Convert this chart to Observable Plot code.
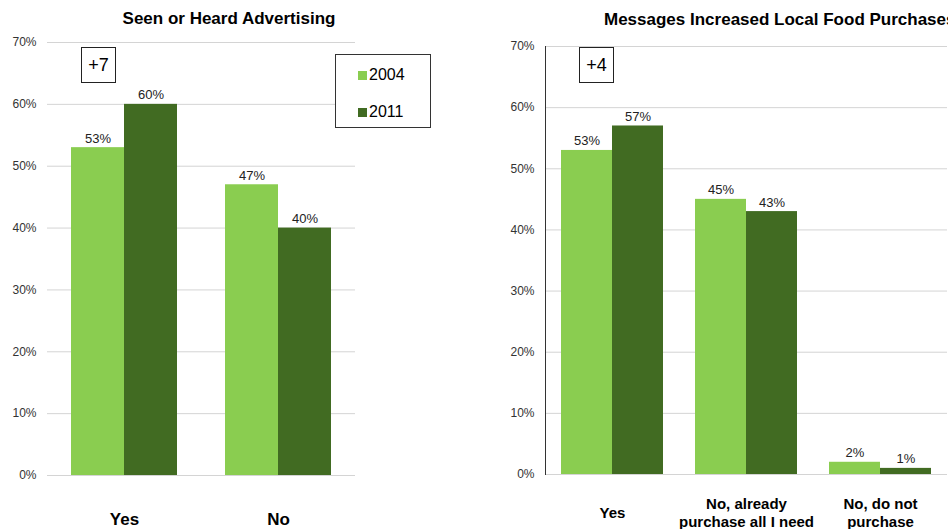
<!DOCTYPE html>
<html>
<head>
<meta charset="utf-8">
<script src="https://cdn.jsdelivr.net/npm/d3@7"></script>
<script src="https://cdn.jsdelivr.net/npm/@observablehq/plot@0.6"></script>
<style>
  html, body { margin: 0; padding: 0; background: #fff; }
  #wrap { position: relative; width: 948px; height: 529px; overflow: hidden; background: #fff;
          font-family: "Liberation Sans", Arial, sans-serif; color: #000; }
  .title { position: absolute; font-weight: bold; font-size: 17px; line-height: 17px; white-space: nowrap; }
  .diff { position: absolute; box-sizing: border-box; border: 1px solid #222; font-size: 18px;
          display: flex; align-items: center; justify-content: center; background: #fff; }
  .legend { position: absolute; box-sizing: border-box; border: 1px solid #333; background: #fff; }
  .legend .item { position: absolute; left: 22px; font-size: 16px; line-height: 16px; display: flex; align-items: center; }
  .legend .sw { width: 9px; height: 9px; margin-right: 2px; display: inline-block; }
  .plot { position: absolute; top: 0; }
</style>
</head>
<body>
<div id="wrap"></div>
<script>
// ---- data ----
const years = ["2004", "2011"];
const adTitle = "Seen or Heard Advertising";
const adCategories = ["Yes", "No"];
const ad2004 = [53, 47];
const ad2011 = [60, 40];

const msgTitle = "Messages Increased Local Food Purchases";
const msgCategories = ["Yes", "No, already\npurchase all I need", "No, do not\npurchase"];
const msg2004 = [53, 45, 2];
const msg2011 = [57, 43, 1];

const yTicks = [0, 10, 20, 30, 40, 50, 60, 70];

// ---- styles ----
const colors = ["#8ACD50", "#416B22"];
const font = "'Liberation Sans', Arial, sans-serif";

function rows(cats, a, b) {
  const out = [];
  cats.forEach((c, i) => {
    out.push({category: c, year: years[0], value: a[i]});
    out.push({category: c, year: years[1], value: b[i]});
  });
  return out;
}

const adRows = rows(adCategories, ad2004, ad2011);
const msgRows = rows(msgCategories, msg2004, msg2011);

function panel(data, cats, opts) {
  const marks = [
    Plot.gridY(yTicks, {stroke: "#d4d4d4", strokeOpacity: 1}),
    Plot.axisY(yTicks, {tickSize: 0, tickPadding: 11, fontSize: 12, tickFormat: d => d + "%", label: null, color: "#333"}),
    Plot.barY(data, {fx: "category", x: "year", y: "value", fill: "year"}),
    Plot.text(data, {fx: "category", x: "year", y: "value", text: d => d.value + "%", dy: -5,
                     lineAnchor: "bottom", fontSize: 13, fill: "#222"}),
    Plot.axisFx({anchor: "bottom", tickSize: 0, tickPadding: opts.labelPad, fontSize: opts.labelSize,
                 fontWeight: "bold", label: null, lineAnchor: "middle", lineHeight: 1.2, color: "#000"})
  ];
  if (opts.axisLine) marks.push(Plot.frame({anchor: "left", stroke: "#333", facet: "super"}));
  return Plot.plot({
    width: opts.width, height: 529,
    marginLeft: opts.ml, marginRight: opts.mr, marginTop: opts.mt, marginBottom: opts.mb,
    style: {fontFamily: font, background: "transparent", overflow: "visible"},
    fx: {domain: cats, padding: 0},
    x: {domain: years, paddingInner: 0, paddingOuter: opts.po, axis: null},
    y: {domain: [0, 70]},
    color: {domain: years, range: colors},
    marks
  });
}

const wrap = document.getElementById("wrap");

const left = panel(adRows, adCategories, {width: 474, ml: 46, mr: 119, mt: 42, mb: 54, po: 0.45, labelPad: 43, labelSize: 17});
left.classList.add("plot");
left.style.left = "0px";
wrap.appendChild(left);

const right = panel(msgRows, msgCategories, {width: 480, ml: 70, mr: 6, mt: 46, mb: 55, po: 0.295, labelPad: 38, labelSize: 15, axisLine: true});
right.classList.add("plot");
right.style.left = "474px";
wrap.appendChild(right);

// titles
const t1 = document.createElement("div");
t1.className = "title"; t1.textContent = adTitle;
t1.style.left = "229px"; t1.style.top = "10px"; t1.style.transform = "translateX(-50%)";
wrap.appendChild(t1);
const t2 = document.createElement("div");
t2.className = "title"; t2.textContent = msgTitle;
t2.style.left = "604px"; t2.style.top = "11px";
wrap.appendChild(t2);

// change boxes
function diffBox(text, x, y) {
  const d = document.createElement("div");
  d.className = "diff"; d.textContent = text;
  d.style.left = x + "px"; d.style.top = y + "px"; d.style.width = "35px"; d.style.height = "36px";
  wrap.appendChild(d);
}
const fmt = v => (v >= 0 ? "+" : "") + v;
diffBox(fmt(ad2011[0] - ad2004[0]), 81, 47);
diffBox(fmt(msg2011[0] - msg2004[0]), 579, 47);

// legend
const lg = document.createElement("div");
lg.className = "legend";
lg.style.left = "335px"; lg.style.top = "54px"; lg.style.width = "96px"; lg.style.height = "74px";
years.forEach((y, i) => {
  const it = document.createElement("div");
  it.className = "item";
  it.style.top = (i === 0 ? 12 : 49) + "px";
  const sw = document.createElement("span");
  sw.className = "sw"; sw.style.background = colors[i];
  it.appendChild(sw);
  it.appendChild(document.createTextNode(y));
  lg.appendChild(it);
});
wrap.appendChild(lg);
</script>
</body>
</html>
